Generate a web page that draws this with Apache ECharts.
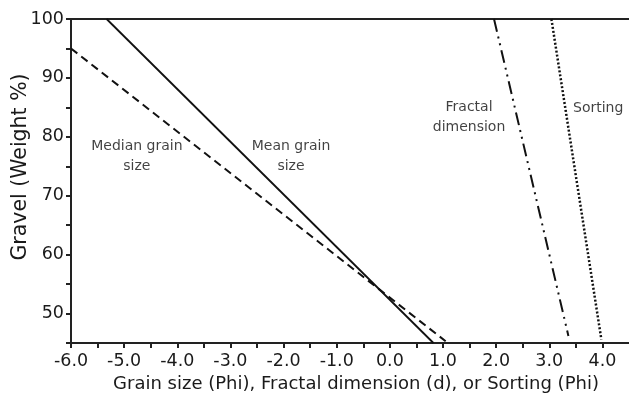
<!DOCTYPE html>
<html><head><meta charset="utf-8">
<script src="https://cdn.jsdelivr.net/npm/echarts@6/dist/echarts.min.js"></script>
<style>html,body{margin:0;padding:0;background:#fff}#c{width:629px;height:403px}</style>
</head><body><div id="c"></div>
<script>
// Data (x value, gravel %)
const meanGrain = [[-5.33, 100], [0.82, 45]];
const medianGrain = [[-6.0, 95.0], [1.05, 45.3]];
const fractalDim = [[1.96, 100], [3.36, 46.2]];
const sorting = [[3.04, 100], [3.98, 45.6]];
const annotations = [
  {text: 'Median grain\nsize', pos: [-4.76, 76.6]},
  {text: 'Mean grain\nsize', pos: [-1.86, 76.6]},
  {text: 'Fractal\ndimension', pos: [1.49, 83.3]},
  {text: 'Sorting', pos: [3.92, 84.9]}
];
const xRange = [-6, 4.5];
const yRange = [45, 100];

const font = 'DejaVu Sans, Liberation Sans, Arial, sans-serif';
const txt = '#1a1a1a';
const ln = '#111';
const chart = echarts.init(document.getElementById('c'));
function lineSeries(data, type, width){
  return {type:'line', data, symbol:'none', silent:true, animation:false,
    lineStyle:{color:ln, width:width, type:type, cap:'butt'}};
}
chart.setOption({
  animation:false,
  grid:{left:71, top:19, right:0, bottom:60, containLabel:false, outerBoundsMode:'none'},
  xAxis:[{
    type:'value', min:xRange[0], max:xRange[1], interval:0.5,
    name:'Grain size (Phi), Fractal dimension (d), or Sorting (Phi)',
    nameLocation:'middle', nameGap:31,
    nameTextStyle:{fontFamily:font, fontSize:18, color:txt, padding:[0,0,0,12]},
    axisLine:{show:true, onZero:false, lineStyle:{color:'#222', width:2}},
    axisTick:{show:true, inside:false, length:5, lineStyle:{color:'#222', width:2}},
    axisLabel:{fontFamily:font, fontSize:17.5, color:txt, margin:9, showMaxLabel:false,
      formatter:v => (Math.abs(v - Math.round(v)) < 1e-9 && v <= 4) ? v.toFixed(1) : ''},
    splitLine:{show:false}
  },{
    type:'value', position:'top', min:xRange[0], max:xRange[1],
    axisLine:{show:true, onZero:false, lineStyle:{color:'#222', width:2}},
    axisTick:{show:false}, axisLabel:{show:false}, splitLine:{show:false}
  }],
  yAxis:{
    type:'value', min:yRange[0], max:yRange[1], interval:5,
    name:'Gravel (Weight %)', nameLocation:'middle', nameGap:40, nameMoveOverlap:false,
    nameTextStyle:{fontFamily:font, fontSize:20.5, color:txt, padding:[0,0,0,28]},
    axisLine:{show:true, onZero:false, lineStyle:{color:'#222', width:2}},
    axisTick:{show:true, length:5, lineStyle:{color:'#222', width:2}},
    axisLabel:{fontFamily:font, fontSize:17.5, color:txt, margin:7,
      formatter:v => (v % 10 === 0) ? String(v) : ''},
    splitLine:{show:false}
  },
  series:[
    lineSeries(meanGrain, 'solid', 1.8),
    lineSeries(medianGrain, [8,5], 2),
    lineSeries(fractalDim, [13,5,2,5,2,5], 2),
    lineSeries(sorting, [2,2], 2.5),
    {type:'scatter', symbolSize:0, silent:true,
     data:annotations.map(a => ({value:a.pos, label:{formatter:a.text}})),
     label:{show:true, position:'inside', fontFamily:font, fontSize:14, lineHeight:20, color:'#111', align:'center'}}
  ]
});
</script></body></html>
